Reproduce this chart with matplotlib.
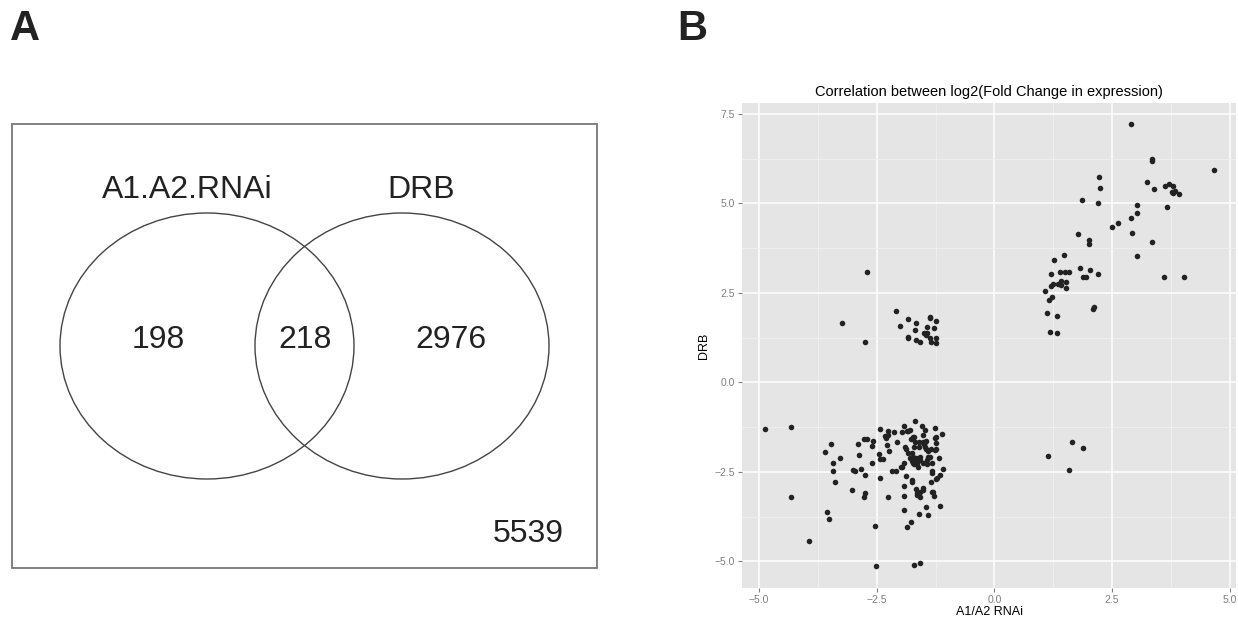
import matplotlib
matplotlib.use('Agg')
import matplotlib.pyplot as plt
from matplotlib.patches import Ellipse, Rectangle

plt.rcParams['font.family'] = ['Liberation Sans', 'DejaVu Sans']

# Venn counts
venn_labels = ['A1.A2.RNAi', 'DRB']
only_rnai = 198
both = 218
only_drb = 2976
neither = 5539

# scatter: log2 fold change, A1/A2 RNAi (x) vs DRB (y)
# upper right group
up_x = [2.90, 3.35, 3.35, 4.66, 2.22, 2.24, 3.24, 3.39, 3.62, 3.71, 3.80, 3.77, 3.84, 3.79, 3.92,
        1.87, 2.20, 3.67, 3.03, 3.03, 2.89, 2.49, 2.62, 1.77, 2.93, 2.00, 2.00, 3.35, 3.03,
        1.48, 1.27, 1.20, 1.39, 1.49, 1.59, 1.82, 1.88, 1.94, 2.04, 2.19, 3.61, 4.03,
        1.24, 1.41, 1.35, 1.41, 1.53, 1.51, 1.20, 1.08, 1.23, 1.15, 2.11, 2.09, 1.12, 1.32, 1.19, 1.32]
up_y = [7.20, 6.25, 6.18, 5.93, 5.74, 5.44, 5.59, 5.39, 5.49, 5.54, 5.47, 5.32, 5.35, 5.30, 5.25,
        5.08, 5.01, 4.90, 4.94, 4.74, 4.58, 4.35, 4.44, 4.13, 4.16, 3.97, 3.86, 3.93, 3.53,
        3.56, 3.42, 3.03, 3.07, 3.07, 3.07, 3.19, 2.94, 2.95, 3.14, 3.04, 2.94, 2.94,
        2.76, 2.84, 2.74, 2.72, 2.80, 2.63, 2.68, 2.55, 2.39, 2.30, 2.11, 2.04, 1.95, 1.86, 1.41, 1.37]

# middle left group
mid_x = [-2.70, -3.24, -2.74, -2.09, -2.00, -1.83, -1.66, -1.68, -1.84, -1.83, -1.66, -1.59,
         -1.37, -1.36, -1.25, -1.44, -1.28, -1.49, -1.43, -1.46, -1.37, -1.35, -1.24, -1.23]
mid_y = [3.07, 1.66, 1.13, 1.98, 1.58, 1.77, 1.66, 1.46, 1.27, 1.23, 1.18, 1.14,
         1.81, 1.83, 1.72, 1.55, 1.53, 1.37, 1.39, 1.32, 1.23, 1.14, 1.23, 1.09]

# lower right group
lr_x = [1.65, 1.88, 1.13, 1.58]
lr_y = [-1.66, -1.83, -2.06, -2.44]

# lower left group
low_x = [-4.88, -4.32, -4.32, -3.94, -2.51, -1.71, -1.59, -3.56, -3.52, -2.53, -1.85, -1.78,
         -1.61, -1.41, -1.46, -1.16, -1.92, -3.03, -2.77, -2.74, -2.26, -2.44, -2.74, -3.39,
         -3.43, -3.43, -3.27, -3.60, -3.47, -3.01, -2.95, -2.83, -2.88, -2.90, -2.77, -2.71,
         -2.59, -2.58, -2.59, -2.44, -2.45, -2.43, -2.36, -2.33, -2.31, -2.26, -2.28, -2.23,
         -2.14, -2.07, -2.18, -2.10, -1.97, -1.99, -1.93, -1.93, -1.93, -1.88, -1.90, -1.88,
         -1.83, -1.80, -1.84, -1.80, -1.78, -1.76, -1.74, -1.74, -1.71, -1.68, -1.70, -1.71,
         -1.67, -1.67, -1.65, -1.64, -1.63, -1.61, -1.60, -1.59, -1.57, -1.54, -1.52, -1.51,
         -1.50, -1.48, -1.48, -1.45, -1.43, -1.42, -1.40, -1.37, -1.34, -1.33, -1.32, -1.31,
         -1.29, -1.27, -1.26, -1.24, -1.26, -1.23, -1.24, -1.18, -1.15, -1.12, -1.10,
         -1.68, -1.52, -1.49, -1.46, -1.35, -1.76, -1.72, -1.68, -1.58, -1.65, -1.72, -1.52,
         -1.44, -1.33, -1.97, -1.93, -1.58, -1.52, -1.33, -1.22, -1.24, -1.72, -2.27, -1.86]
low_y = [-1.30, -1.25, -3.21, -4.42, -5.12, -5.10, -5.05, -3.61, -3.80, -4.00, -4.03, -3.90,
         -3.67, -3.71, -3.47, -3.46, -3.57, -3.00, -3.19, -3.08, -3.21, -2.66, -2.59, -2.79,
         -2.46, -2.24, -2.11, -1.93, -1.71, -2.45, -2.47, -2.41, -2.03, -1.72, -1.58, -1.58,
         -1.77, -1.65, -2.25, -1.30, -1.99, -2.15, -2.14, -1.51, -1.56, -1.35, -1.75, -1.92,
         -1.39, -1.67, -2.47, -2.48, -1.39, -2.36, -1.21, -2.89, -3.18, -2.60, -1.79, -1.86,
         -1.37, -1.34, -1.98, -2.11, -1.59, -2.73, -2.79, -2.20, -2.28, -1.07, -1.53, -1.80,
         -2.11, -2.99, -3.15, -3.10, -2.35, -1.67, -1.80, -2.07, -3.19, -1.22, -2.96, -1.48,
         -1.72, -1.32, -1.81, -1.64, -2.28, -2.07, -1.91, -2.07, -2.78, -2.53, -2.47, -3.07,
         -3.17, -1.27, -1.56, -1.52, -1.89, -1.86, -2.70, -2.12, -2.58, -1.44, -2.41,
         -1.66, -1.66, -1.73, -1.87, -1.87, -1.98, -2.07, -2.15, -2.17, -2.24, -2.26, -2.26,
         -2.17, -2.26, -2.35, -2.26, -3.05, -3.00, -3.05, -2.68, -1.68, -1.52, -1.47, -1.35]

xs = up_x + mid_x + lr_x + low_x
ys = up_y + mid_y + lr_y + low_y

W, H = 1238, 621
fig = plt.figure(figsize=(W / 100, H / 100), dpi=100)

# ---- panel A: Venn diagram (drawn in pixel units)
axa = fig.add_axes([0, 0, 620 / W, 1])
axa.set_xlim(0, 620)
axa.set_ylim(H, 0)
axa.axis('off')
axa.add_patch(Rectangle((12, 124), 585, 444, fill=False, ec='#777777', lw=1.3))
axa.add_patch(Ellipse((207, 346), 294, 266, fill=False, ec='#444444', lw=1.0))
axa.add_patch(Ellipse((402, 346), 294, 266, fill=False, ec='#444444', lw=1.0))
axa.text(187, 190, venn_labels[0], fontsize=23, ha='center', va='center', color='#222222')
axa.text(421, 190, venn_labels[1], fontsize=23, ha='center', va='center', color='#222222')
axa.text(158, 340, str(only_rnai), fontsize=23, ha='center', va='center', color='#222222')
axa.text(305, 340, str(both), fontsize=23, ha='center', va='center', color='#222222')
axa.text(451, 340, str(only_drb), fontsize=23, ha='center', va='center', color='#222222')
axa.text(528, 534, str(neither), fontsize=23, ha='center', va='center', color='#222222')
fig.text(10 / W, 1 - 40 / H, 'A', fontsize=30, fontweight='bold', va='baseline', ha='left',
         color='#222222')
fig.text(677 / W, 1 - 40 / H, 'B', fontsize=30, fontweight='bold', va='baseline', ha='left',
         color='#222222')

# ---- panel B: ggplot-like scatter
axb = fig.add_axes([742 / W, 33 / H, 494 / W, 485 / H])
axb.set_facecolor('#E5E5E5')
for s in axb.spines.values():
    s.set_visible(False)
axb.set_xlim(-5.36, 5.13)
axb.set_ylim(-5.74, 7.80)
xt = [-5.0, -2.5, 0.0, 2.5, 5.0]
yt = [-5.0, -2.5, 0.0, 2.5, 5.0, 7.5]
axb.set_xticks(xt)
axb.set_yticks(yt)
axb.set_xticklabels(['\u22125.0', '\u22122.5', '0.0', '2.5', '5.0'])
axb.set_yticklabels(['\u22125.0', '\u22122.5', '0.0', '2.5', '5.0', '7.5'])
axb.set_xticks([-3.75, -1.25, 1.25, 3.75], minor=True)
axb.set_yticks([-3.75, -1.25, 1.25, 3.75, 6.25], minor=True)
axb.grid(which='major', color='white', lw=1.1)
axb.grid(which='minor', color='#F2F2F2', lw=0.5)
axb.set_axisbelow(True)
axb.tick_params(which='major', length=3, width=0.8, color='#7F7F7F', labelcolor='#7F7F7F',
                labelsize=7.5, pad=2)
axb.tick_params(which='minor', length=0)
axb.scatter(xs, ys, s=16, color='#222222', lw=0, zorder=3)
axb.set_title('Correlation between log2(Fold Change in expression)', fontsize=10.5, pad=5)
axb.set_xlabel('A1/A2 RNAi', fontsize=9, labelpad=1)
axb.set_ylabel('DRB', fontsize=9, labelpad=3)

fig.savefig('out.png', dpi=100)
